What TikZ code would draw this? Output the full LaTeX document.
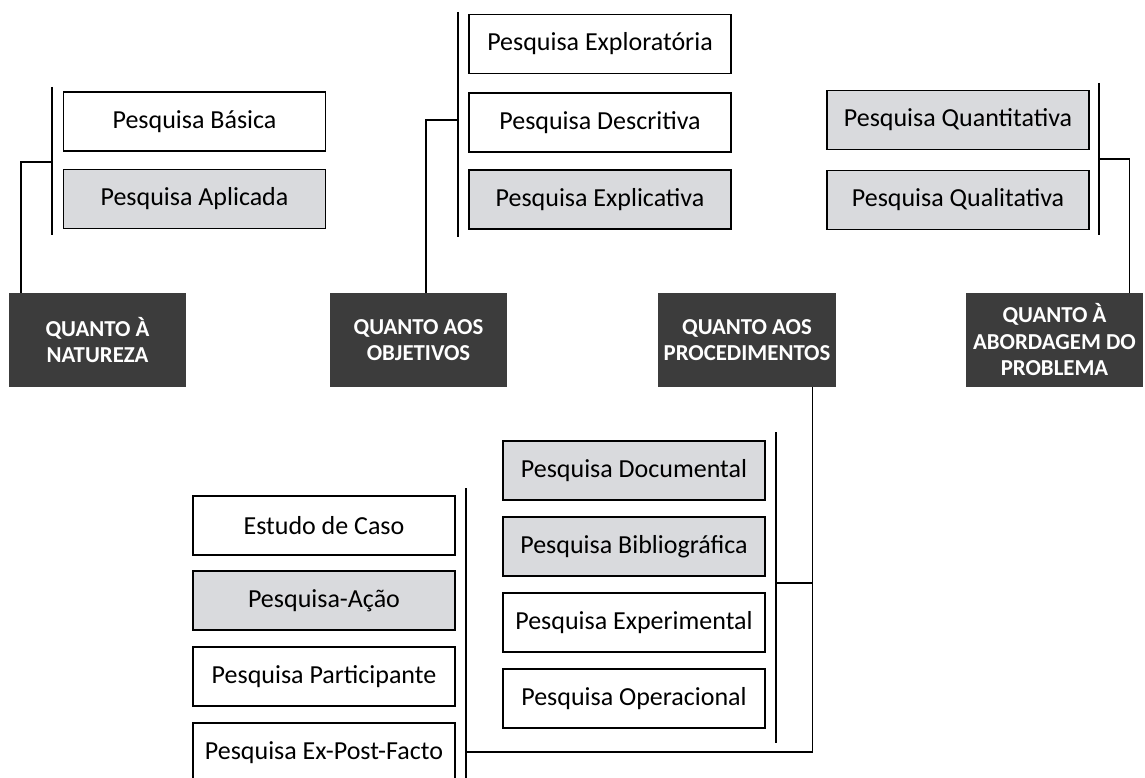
\documentclass[tikz,border=0pt]{standalone}
\usepackage{fontspec}
\setmainfont{Carlito}
\usetikzlibrary{calc}
\definecolor{boxgrey}{HTML}{D9DADD}
\definecolor{darkbox}{HTML}{3C3C3C}
\tikzset{
  item/.style={draw=black, line width=1.4pt, minimum width=262pt, minimum height=59pt,
    inner sep=0pt, font=\fontsize{26}{30}\selectfont},
  itemw/.style={item, fill=white},
  itemg/.style={item, fill=boxgrey},
  head/.style={fill=darkbox, text=white, minimum width=177pt, minimum height=94pt,
    inner sep=0pt, align=center, font=\bfseries\fontsize{22.8}{26.5}\selectfont},
  link/.style={draw=black, line width=1.4pt},
}
\begin{document}
\begin{tikzpicture}[x=1pt, y=-1pt]
\clip (0,0) rectangle (1145,778);
\fill[white] (0,0) rectangle (1145,778);

% heading boxes
\node[head] (nat)  at (97.5,340)  {QUANTO À\\NATUREZA};
\node[head] (obj)  at (418.5,340) {QUANTO AOS\\OBJETIVOS};
\node[head, minimum width=178pt] (proc) at (747,340) {QUANTO AOS\\PROCEDIMENTOS};
\node[head] (abo)  at (1054.5,340) {QUANTO À\\ABORDAGEM DO\\PROBLEMA};

% nature
\node[itemw] (bas) at (194.5,121.5) {Pesquisa Básica};
\node[itemg] (apl) at (194.5,199)   {Pesquisa Aplicada};

% objectives
\node[itemw] (exr) at (600,44)    {Pesquisa Exploratória};
\node[itemw] (des) at (600,122.5) {Pesquisa Descritiva};
\node[itemg] (exc) at (600,199.5) {Pesquisa Explicativa};

% approach
\node[itemg] (qnt) at (958,120) {Pesquisa Quantitativa};
\node[itemg] (qlt) at (958,200) {Pesquisa Qualitativa};

% procedures, right column
\node[itemg] (doc) at (634,470.5) {Pesquisa Documental};
\node[itemg] (bib) at (634,546.5) {Pesquisa Bibliográfica};
\node[itemw] (exm) at (634,622.5) {Pesquisa Experimental};
\node[itemw] (ope) at (634,698.5) {Pesquisa Operacional};

% procedures, left column
\node[itemw] (est) at (324,525.5) {Estudo de Caso};
\node[itemg] (aca) at (324,600.5) {Pesquisa-Ação};
\node[itemw] (par) at (324,676.5) {Pesquisa Participante};
\node[itemw] (epf) at (324,752.5) {Pesquisa Ex-Post-Facto};

% bracket bars
\coordinate (b1t) at (52,87);   \coordinate (b1b) at (52,235);  \coordinate (b1m) at (52,162);
\coordinate (b2t) at (458,12);  \coordinate (b2b) at (458,237); \coordinate (b2m) at (458,120);
\coordinate (b3t) at (1099,83); \coordinate (b3b) at (1099,235);\coordinate (b3m) at (1099,159);
\coordinate (b4t) at (776,432); \coordinate (b4b) at (776,743); \coordinate (b4m) at (776,583);
\coordinate (b5t) at (466,488); \coordinate (b5b) at (466,790); \coordinate (b5m) at (466,752);

\draw[link] (b1t) -- (b1b);
\draw[link] (b2t) -- (b2b);
\draw[link] (b3t) -- (b3b);
\draw[link] (b4t) -- (b4b);
\draw[link] (b5t) -- (b5b);

% connectors to headings
\coordinate (pc) at ($(proc.south east)+(-24,0)$);
\draw[link] (b1m) -| ($(nat.north west)+(12,0)$);
\draw[link] (b2m) -| ($(obj.north west)+(96,0)$);
\draw[link] (b3m) -| ($(abo.north east)+(-14,0)$);
\draw[link] (pc) |- (b5m);
\draw[link] (b4m) -- (b4m -| pc);
\end{tikzpicture}
\end{document}
